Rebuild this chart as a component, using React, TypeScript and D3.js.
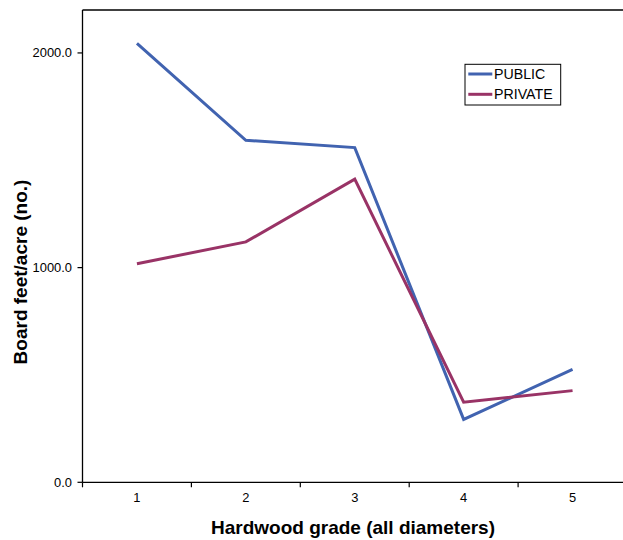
import React from "react";
import * as d3 from "d3";

const categories = ["1", "2", "3", "4", "5"];
const publicValues = [2045, 1593, 1559, 293, 526];
const privateValues = [1018, 1120, 1412, 373, 427];
const yTicks = [0, 1000, 2000];
const seriesNames = ["PUBLIC", "PRIVATE"];
const seriesColors = ["#4163B0", "#993366"];

const W = 623;
const H = 540;
const left = 82.5;
const right = 627;
const top = 10;
const bottom = 482.3;

export default function App() {
  const x = d3.scaleBand<string>().domain(categories).range([left, right]).padding(0);
  const y = d3.scaleLinear().domain([0, 2200]).range([bottom, top]);
  const line = d3
    .line<number>()
    .x((_, i) => (x(categories[i]) as number) + x.bandwidth() / 2)
    .y((d) => y(d));
  const series = [publicValues, privateValues];
  const font = "'Liberation Sans', Arial, sans-serif";
  const boundaries = categories.map((c) => x(c) as number).concat([right]);

  return (
    <svg width={W} height={H} style={{ position: "absolute", left: 0, top: 0, background: "#fff" }} fontFamily={font}>
      <rect x={0} y={0} width={W} height={H} fill="#fff" />
      {/* plot frame */}
      <line x1={left} x2={right} y1={top} y2={top} stroke="#000" strokeWidth={1.3} />
      <line x1={right} x2={right} y1={top} y2={bottom} stroke="#000" strokeWidth={1.3} />
      <line x1={left} x2={left} y1={top} y2={bottom} stroke="#000" strokeWidth={1.3} />
      <line x1={left} x2={right} y1={bottom} y2={bottom} stroke="#000" strokeWidth={1.3} />
      {/* y ticks */}
      {yTicks.map((t) => (
        <g key={t}>
          <line x1={left - 5} x2={left} y1={y(t)} y2={y(t)} stroke="#000" strokeWidth={1.2} />
          <text x={left - 10.5} y={y(t)} dy="0.35em" textAnchor="end" fontSize={12.9} fill="#000">
            {d3.format(".1f")(t)}
          </text>
        </g>
      ))}
      {/* x ticks */}
      {boundaries.map((b, i) => (
        <line key={i} x1={b} x2={b} y1={bottom} y2={bottom + 5} stroke="#000" strokeWidth={1.2} />
      ))}
      {categories.map((c) => (
        <text key={c} x={(x(c) as number) + x.bandwidth() / 2} y={502} textAnchor="middle" fontSize={12.9} fill="#000">
          {c}
        </text>
      ))}
      {/* lines */}
      {series.map((s, i) => (
        <path key={i} d={line(s) || ""} fill="none" stroke={seriesColors[i]} strokeWidth={3} strokeLinejoin="miter" />
      ))}
      {/* axis titles */}
      <text x={353} y={534} textAnchor="middle" fontSize={19} fontWeight="bold" fill="#000">
        Hardwood grade (all diameters)
      </text>
      <text
        transform={`translate(27,272) rotate(-90)`}
        textAnchor="middle"
        fontSize={19}
        fontWeight="bold"
        fill="#000"
      >
        Board feet/acre (no.)
      </text>
      {/* legend */}
      <rect x={465} y={64.3} width={95.7} height={40.7} fill="#fff" stroke="#000" strokeWidth={1} />
      {seriesNames.map((n, i) => (
        <g key={n}>
          <line x1={468.3} x2={492.3} y1={74 + i * 20.3} y2={74 + i * 20.3} stroke={seriesColors[i]} strokeWidth={3} />
          <text x={494} y={74 + i * 20.3} dy="0.36em" fontSize={14.2} fill="#000">
            {n}
          </text>
        </g>
      ))}
    </svg>
  );
}
